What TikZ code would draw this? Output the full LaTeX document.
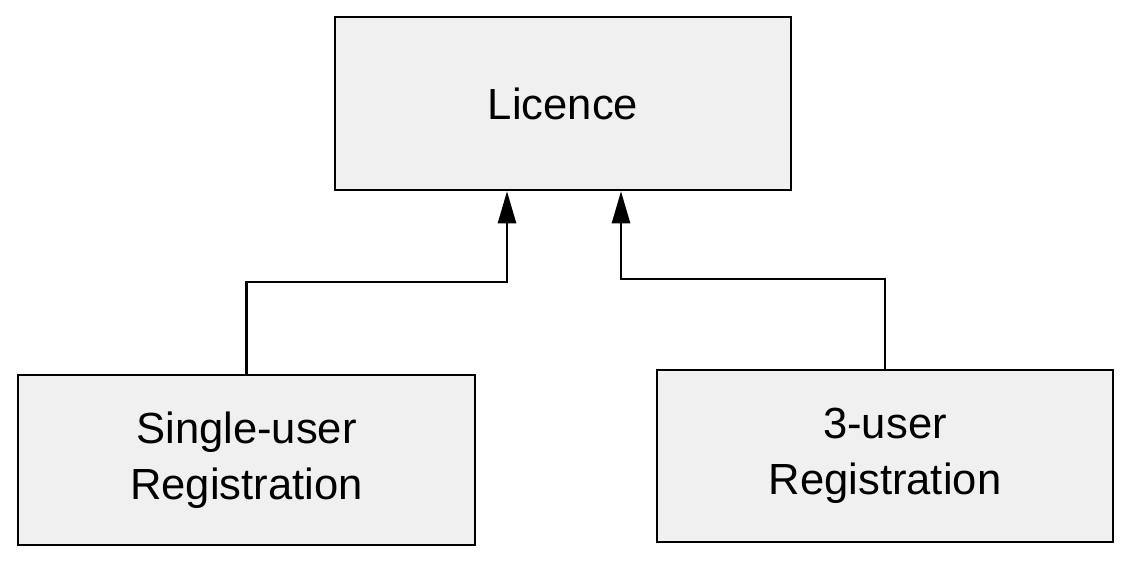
\documentclass[tikz,border=0pt]{standalone}
\usepackage{fontspec}
\setmainfont{Liberation Sans}
\usetikzlibrary{positioning, arrows.meta}

\begin{document}
\begin{tikzpicture}[
    classbox/.style={draw, line width=1.8pt, fill=gray!12, align=center,
      font=\fontsize{31}{40}\selectfont, inner sep=0pt},
    inherit/.style={-{Triangle[length=8mm, width=4.5mm]}, line width=1.8pt}]
  \useasboundingbox (0,0) rectangle (28.35,14.175);

  \node[classbox, minimum width=11.4cm, minimum height=4.325cm] (lic) at (14.075, 11.5875) {Licence};
  \node[classbox, minimum width=11.425cm, minimum height=4.25cm] (sur) at (6.1625, 2.675) {Single-user\\Registration};
  \node[classbox, minimum width=11.4cm, minimum height=4.3cm] (tur) at (22.125, 2.775) {3-user\\Registration};

  % bend points of the two connectors
  \coordinate (jl) at (12.675, 7.125);
  \coordinate (jr) at (15.525, 7.2);

  \draw[inherit] (sur.north) |- (jl) -- (jl |- lic.south);
  \draw[inherit] (tur.north) |- (jr) -- (jr |- lic.south);
\end{tikzpicture}
\end{document}
